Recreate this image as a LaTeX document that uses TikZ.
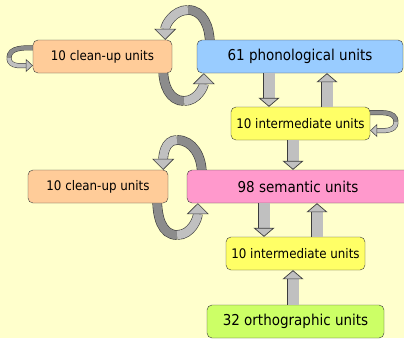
\documentclass[tikz,border=0pt]{standalone}
\usepackage{fontspec}
\setmainfont{DejaVu Sans Condensed}
\usetikzlibrary{arrows.meta, backgrounds}
\definecolor{paper}{HTML}{FFFFCC}
\definecolor{cleanfill}{HTML}{FFCC99}
\definecolor{phonfill}{HTML}{99CCFF}
\definecolor{interfill}{HTML}{FFFF66}
\definecolor{semfill}{HTML}{FF99CC}
\definecolor{orthofill}{HTML}{CCFF66}
\definecolor{ribbonlight}{HTML}{C0C0C0}
\definecolor{ribbondark}{HTML}{8C8C8C}
\definecolor{rim}{HTML}{3C3C3C}

\begin{document}
\begin{tikzpicture}[
            x=1pt, y=1pt,
            unit/.style={draw=rim, rounded corners=5pt, minimum height=33pt, inner sep=0pt},
            small/.style={unit, minimum width=139pt, font=\fontsize{13.2}{15}\selectfont},
            big/.style={unit, font=\fontsize{15}{17}\selectfont},
            block/.style={draw=rim, line width=0.7pt, double=ribbonlight, double distance=11pt,
                -{Triangle[open, fill=ribbonlight, length=9pt, width=21pt, line width=0.7pt]}},
            ribbon/.style={draw=rim, line width=0.6pt, double=ribbonlight, double distance=8.5pt},
            ribbon back/.style={ribbon, double=ribbondark},
            ribbon head/.style={ribbon, -{Triangle[open, fill=ribbonlight, length=11pt, width=22pt, line width=0.6pt]}},
            curl/.style={draw=rim, line width=0.5pt, double=ribbonlight, double distance=4pt},
            curl back/.style={curl, double=ribbondark},
            curl head/.style={curl, -{Triangle[open, fill=ribbonlight, length=7pt, width=13pt, line width=0.5pt]}}
        ]
            \useasboundingbox (0,0) rectangle (404,-338);

            \node [small, fill=cleanfill] (clean1) at (102.5,-56.5) {10 clean-up units};
            \node [big, fill=phonfill, minimum width=206pt] (phon) at (300,-56.5) {61 phonological units};
            \node [small, fill=interfill] (inter1) at (300.5,-123.5) {10 intermediate units};
            \node [small, fill=cleanfill, minimum width=140pt] (clean2) at (98,-186.5) {10 clean-up units};
            \node [big, fill=semfill, minimum width=222pt] (sem) at (298,-186.5) {98 semantic units};
            \node [small, fill=interfill] (inter2) at (295.5,-253.5) {10 intermediate units};
            \node [big, fill=orthofill, minimum width=177pt] (ortho) at (295.5,-321.5) {32 orthographic units};

            \draw [block] ([xshift=-31pt]phon.south) -- ([xshift=-31.5pt]inter1.north);
            \draw [block] ([xshift=26.5pt]inter1.north) -- ([xshift=27pt]phon.south);
            \draw [block] ([xshift=-7.5pt]inter1.south) -- ([xshift=-5pt]sem.north);
            \draw [block] ([xshift=-34pt]sem.south) -- ([xshift=-31.5pt]inter2.north);
            \draw [block] ([xshift=21.5pt]inter2.north) -- ([xshift=19pt]sem.south);
            \draw [block] ([xshift=-2.5pt]ortho.north) -- ([xshift=-2.5pt]inter2.south);

            \coordinate (crest1) at (188,-10);
            \coordinate (trough1) at (184,-101);
            \coordinate (crest2) at (177,-140);
            \coordinate (trough2) at (177,-235);
            \coordinate (curl1) at (9,-58);
            \coordinate (curl2) at (396,-122);

            \begin{scope}[on background layer]
                \fill [paper] (0,0) rectangle (404,-338);
                % phonological <-> clean-up
                \draw [ribbon back] ([shift={(13pt,-3pt)}]phon.north west) to [out=90, in=0] (crest1);
                \draw [ribbon head] (crest1) to [out=180, in=90] ([xshift=-7pt]clean1.north east);
                \draw [ribbon back] ([shift={(-9pt,3pt)}]clean1.south east) to [out=-90, in=180] (trough1);
                \draw [ribbon head] (trough1) to [out=0, in=-90] ([xshift=7pt]phon.south west);
                % semantic <-> clean-up
                \draw [ribbon back] ([shift={(15pt,-3pt)}]sem.north west) to [out=90, in=0] (crest2);
                \draw [ribbon head] (crest2) to [out=180, in=90] ([xshift=-5pt]clean2.north east);
                \draw [ribbon back] ([shift={(-11pt,3pt)}]clean2.south east) to [out=-90, in=180] (trough2);
                \draw [ribbon head] (trough2) to [out=0, in=-90] ([xshift=11pt]sem.south west);
                % self loops
                \draw [curl back] ([shift={(3pt,-8pt)}]clean1.north west) to [out=180, in=90] (curl1);
                \draw [curl head] (curl1) to [out=-90, in=180] ([yshift=-9pt]clean1.west);
                \draw [curl back] ([shift={(-3pt,-6pt)}]inter1.north east) to [out=0, in=90] (curl2);
                \draw [curl head] (curl2) to [out=-90, in=0] ([yshift=-7pt]inter1.east);
            \end{scope}

        \end{tikzpicture}
\end{document}
